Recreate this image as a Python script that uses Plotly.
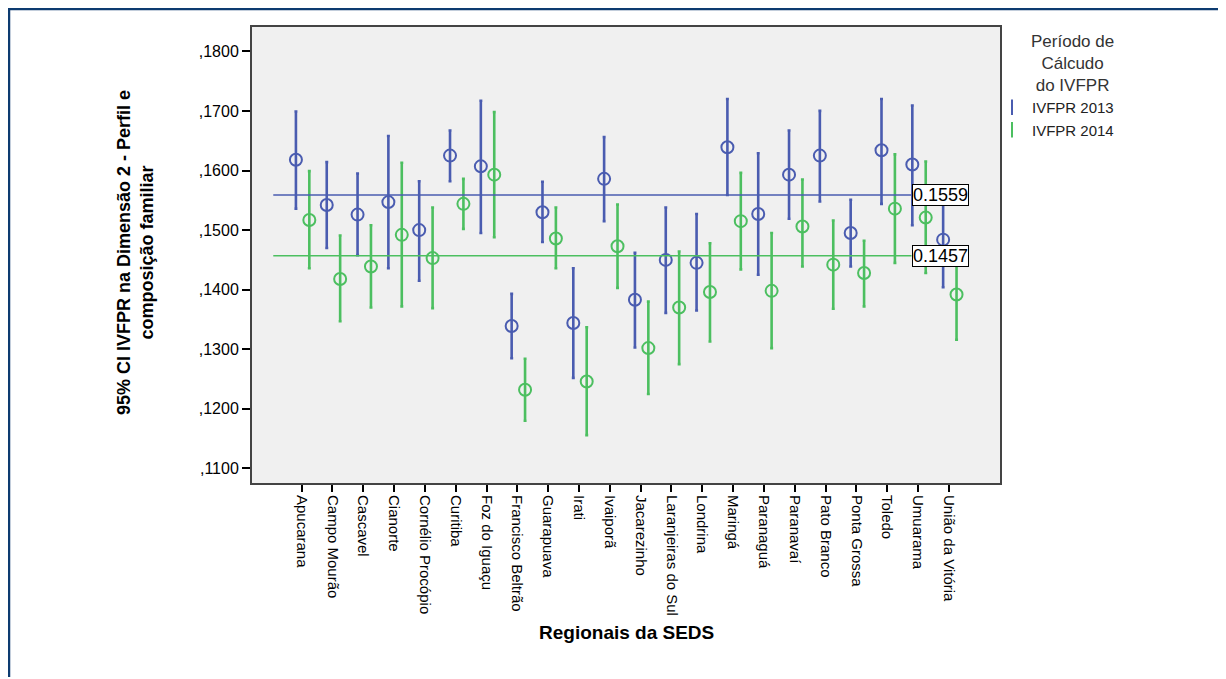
import numpy as np
import plotly.graph_objects as go

categories = ["Apucarana", "Campo Mourão", "Cascavel", "Cianorte", "Cornélio Procópio",
              "Curitiba", "Foz do Iguaçu", "Francisco Beltrão", "Guarapuava", "Irati",
              "Ivaiporã", "Jacarezinho", "Laranjeiras do Sul", "Londrina", "Maringá",
              "Paranaguá", "Paranavaí", "Pato Branco", "Ponta Grossa", "Toledo",
              "Umuarama", "União da Vitória"]

mean_2013 = [0.1618, 0.1542, 0.1526, 0.1547, 0.1500, 0.1625, 0.1607, 0.1339, 0.1530, 0.1344, 0.1586,
             0.1383, 0.1450, 0.1445, 0.1639, 0.1527, 0.1593, 0.1625, 0.1495, 0.1634, 0.1610, 0.1484]
upper_2013 = [0.1699, 0.1614, 0.1595, 0.1658, 0.1582, 0.1667, 0.1717, 0.1393, 0.1581, 0.1436, 0.1656,
              0.1462, 0.1538, 0.1527, 0.1720, 0.1629, 0.1667, 0.1700, 0.1551, 0.1720, 0.1709, 0.1543]
lower_2013 = [0.1536, 0.1470, 0.1458, 0.1436, 0.1415, 0.1582, 0.1495, 0.1285, 0.1480, 0.1252, 0.1515,
              0.1303, 0.1361, 0.1365, 0.1559, 0.1425, 0.1519, 0.1548, 0.1439, 0.1544, 0.1508, 0.1404]

mean_2014 = [0.1517, 0.1418, 0.1439, 0.1492, 0.1453, 0.1544, 0.1593, 0.1232, 0.1486, 0.1246, 0.1473,
             0.1302, 0.1370, 0.1396, 0.1515, 0.1398, 0.1506, 0.1442, 0.1428, 0.1536, 0.1521, 0.1392]
upper_2014 = [0.1599, 0.1491, 0.1508, 0.1613, 0.1538, 0.1586, 0.1698, 0.1284, 0.1538, 0.1337, 0.1543,
              0.1380, 0.1464, 0.1478, 0.1596, 0.1495, 0.1585, 0.1516, 0.1482, 0.1627, 0.1615, 0.1450]
lower_2014 = [0.1436, 0.1347, 0.1370, 0.1372, 0.1369, 0.1502, 0.1488, 0.1180, 0.1436, 0.1156, 0.1403,
              0.1225, 0.1275, 0.1313, 0.1434, 0.1302, 0.1439, 0.1368, 0.1372, 0.1445, 0.1428, 0.1316]

series_names = ["IVFPR 2013", "IVFPR 2014"]
ref_values = [0.1559, 0.1457]
ref_labels = ["0.1559", "0.1457"]

y_tick_vals = [0.11, 0.12, 0.13, 0.14, 0.15, 0.16, 0.17, 0.18]
y_tick_text = [",1100", ",1200", ",1300", ",1400", ",1500", ",1600", ",1700", ",1800"]

BLUE = "#4a5cb0"
GREEN = "#4cbf60"
colors = [BLUE, GREEN]
offsets = [-0.185, 0.25]
FONT = "Liberation Sans, Arial, sans-serif"

# page offset of the figure div (body margin)
OX, OY = 8, 10
W, H = 1226 - OX, 679 - OY
PL, PR, PT, PB = 252, 1000, 29, 485          # plot area in page pixels
L = PL - OX
T = PT - OY
R = W - (PR - OX)
B = H - (PB - OY)
pw = PR - PL
ph = PB - PT

def px_x(p):
    return (p - PL) / pw

def px_y(p):
    return (PB - p) / ph

idx = np.arange(len(categories))
fig = go.Figure()

data = [(mean_2013, upper_2013, lower_2013), (mean_2014, upper_2014, lower_2014)]
for k, (m, u, lo) in enumerate(data):
    m = np.array(m); u = np.array(u); lo = np.array(lo)
    fig.add_trace(go.Scatter(
        x=idx + offsets[k], y=m, mode="markers", showlegend=False,
        name=series_names[k],
        marker=dict(symbol="circle-open", size=12, color=colors[k], line=dict(width=2, color=colors[k])),
        error_y=dict(type="data", symmetric=False, array=u - m, arrayminus=m - lo,
                     color=colors[k], thickness=2.6, width=1.5),
        customdata=np.stack([lo, u], axis=1),
        hovertemplate="%{y:.4f} [%{customdata[0]:.4f}, %{customdata[1]:.4f}]",
    ))

# legend entries
for k in range(2):
    fig.add_trace(go.Scatter(
        x=[None], y=[None], mode="markers", name=series_names[k], showlegend=True,
        marker=dict(symbol="line-ns-open", size=11, color=colors[k], line=dict(width=2, color=colors[k])),
    ))

shapes = []
annotations = []
for k in range(2):
    shapes.append(dict(type="line", xref="x", yref="y", x0=-0.92, x1=19.79,
                       y0=ref_values[k], y1=ref_values[k],
                       line=dict(color=colors[k], width=1.6), layer="above"))
    annotations.append(dict(xref="x", yref="y", x=19.79, y=ref_values[k], xanchor="left",
                            yanchor="middle", text=ref_labels[k], showarrow=False,
                            font=dict(family=FONT, size=18, color="black"),
                            bgcolor="white", bordercolor="black", borderwidth=1, borderpad=0))

# outer frame (left and top)
frame_color = "#0d3b70"
shapes.append(dict(type="line", xref="paper", yref="paper", x0=px_x(OX + 1), x1=px_x(OX + 1),
                   y0=px_y(OY + 0.5), y1=px_y(700), line=dict(color=frame_color, width=2.5)))
shapes.append(dict(type="line", xref="paper", yref="paper", x0=px_x(OX), x1=px_x(1240),
                   y0=px_y(OY + 1), y1=px_y(OY + 1), line=dict(color=frame_color, width=2.5)))

# y axis title
annotations.append(dict(xref="paper", yref="paper", x=px_x(135), y=px_y(255),
                        xanchor="center", yanchor="middle", textangle=-90, showarrow=False,
                        text="<b>95% CI IVFPR na Dimensão 2 - Perfil e<br>composição familiar</b>",
                        font=dict(family=FONT, size=18, color="black")))
# x axis title
annotations.append(dict(xref="paper", yref="paper", x=px_x(626), y=px_y(634),
                        xanchor="center", yanchor="middle", showarrow=False,
                        text="<b>Regionais da SEDS</b>",
                        font=dict(family=FONT, size=19, color="black")))
# legend title (centred lines)
annotations.append(dict(xref="paper", yref="paper", x=px_x(1072), y=px_y(66),
                        xanchor="center", yanchor="middle", showarrow=False, align="center",
                        text="Período de<br>Cálcudo<br>do IVFPR",
                        font=dict(family=FONT, size=17, color="#333")))

fig.update_layout(
    width=W, height=H, autosize=False,
    margin=dict(l=L, r=R, t=T, b=B, pad=0),
    paper_bgcolor="white", plot_bgcolor="#f0f0f0",
    font=dict(family=FONT, color="black"),
    shapes=shapes, annotations=annotations,
    legend=dict(
        x=px_x(992), y=px_y(93), xanchor="left", yanchor="top",
        font=dict(family=FONT, size=15, color="#222"), bgcolor="rgba(0,0,0,0)",
        itemwidth=30, tracegroupgap=0,
    ),
    xaxis=dict(
        range=[-1.61, 22.66], tickmode="array", tickvals=list(idx), ticktext=categories,
        tickangle=90, ticks="outside", ticklen=7, tickwidth=1.5, tickcolor="black",
        tickfont=dict(family=FONT, size=15, color="black"),
        showgrid=False, zeroline=False, showline=True, linecolor="#444", linewidth=2, mirror=True,
    ),
    yaxis=dict(
        range=[0.10756, 0.18408], tickmode="array", tickvals=y_tick_vals, ticktext=y_tick_text,
        ticks="outside", ticklen=8, tickwidth=1.5, tickcolor="black",
        tickfont=dict(family=FONT, size=16, color="black"),
        showgrid=False, zeroline=False, showline=True, linecolor="#444", linewidth=2, mirror=True,
    ),
)

fig.write_html("out.html")
